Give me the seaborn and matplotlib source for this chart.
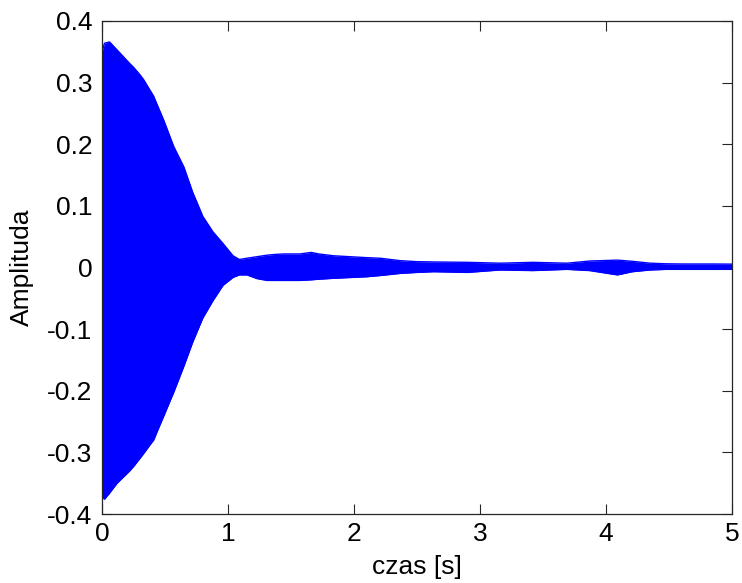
import matplotlib
matplotlib.use("Agg")
import matplotlib.pyplot as plt
import seaborn as sns
import pandas as pd

# Envelope of the decaying signal: time [s] with upper and lower peak amplitude
time_s = [0.00, 0.02, 0.06, 0.12, 0.17, 0.22, 0.25, 0.30, 0.33, 0.38, 0.41, 0.43,
          0.49, 0.57, 0.65, 0.72, 0.80, 0.88, 0.96, 1.04, 1.09, 1.15, 1.23, 1.31,
          1.36, 1.44, 1.57, 1.66, 1.72, 1.84, 2.10, 2.21, 2.37, 2.50, 2.63, 2.90,
          3.16, 3.42, 3.69, 3.87, 4.09, 4.21, 4.35, 4.48, 4.61, 4.85, 5.00]
upper = [0.350, 0.364, 0.366, 0.353, 0.342, 0.331, 0.325, 0.313, 0.305, 0.288, 0.278, 0.268,
         0.239, 0.196, 0.163, 0.122, 0.083, 0.058, 0.039, 0.019, 0.013, 0.015, 0.0175, 0.020,
         0.021, 0.022, 0.022, 0.0245, 0.022, 0.019, 0.016, 0.015, 0.011, 0.0095, 0.009, 0.0084,
         0.007, 0.0084, 0.007, 0.0105, 0.012, 0.010, 0.007, 0.006, 0.0057, 0.0057, 0.0055]
lower = [-0.372, -0.376, -0.366, -0.350, -0.340, -0.330, -0.323, -0.310, -0.302, -0.288, -0.280, -0.270,
         -0.241, -0.202, -0.160, -0.121, -0.082, -0.054, -0.029, -0.016, -0.012, -0.012, -0.018, -0.021,
         -0.021, -0.021, -0.021, -0.020, -0.019, -0.0175, -0.015, -0.013, -0.0095, -0.008, -0.0068, -0.008,
         -0.004, -0.005, -0.003, -0.005, -0.012, -0.0068, -0.004, -0.003, -0.003, -0.003, -0.003]

x_ticks = [0, 1, 2, 3, 4, 5]
y_ticks = [-0.4, -0.3, -0.2, -0.1, 0, 0.1, 0.2, 0.3, 0.4]
y_tick_labels = ["-0.4", "-0.3", "-0.2", "-0.1", "0", "0.1", "0.2", "0.3", "0.4"]

df = pd.DataFrame({"t": time_s, "upper": upper, "lower": lower})

sns.set_style("white")
plt.rcParams["font.family"] = ["Liberation Sans", "DejaVu Sans"]

fig = plt.figure(figsize=(7.42, 5.83), dpi=100)
ax = fig.add_axes([102 / 742, 1 - 514 / 583, 630 / 742, 493 / 583])

blue = "#0000FF"
ax.fill_between(df["t"], df["lower"], df["upper"], color=blue, linewidth=0)
sns.lineplot(data=df, x="t", y="upper", ax=ax, color=blue, linewidth=1.0)
sns.lineplot(data=df, x="t", y="lower", ax=ax, color=blue, linewidth=1.0)

ax.set_xlim(0, 5)
ax.set_ylim(-0.4, 0.4)
ax.set_xticks(x_ticks)
ax.set_xticklabels([str(v) for v in x_ticks])
ax.set_yticks(y_ticks)
ax.set_yticklabels(y_tick_labels)

ax.tick_params(direction="in", length=7, width=0.8, color="#262626",
               top=True, right=True, bottom=True, left=True,
               labelsize=19, labelcolor="black")
ax.tick_params(axis="x", pad=6)
ax.tick_params(axis="y", pad=7)
for s in ax.spines.values():
    s.set_visible(True)
    s.set_color("#262626")
    s.set_linewidth(0.9)

ax.set_xlabel("czas [s]", fontsize=19, labelpad=6, color="black")
ax.set_ylabel("Amplituda", fontsize=19, labelpad=9, color="black")

fig.savefig("out.png", dpi=100)
